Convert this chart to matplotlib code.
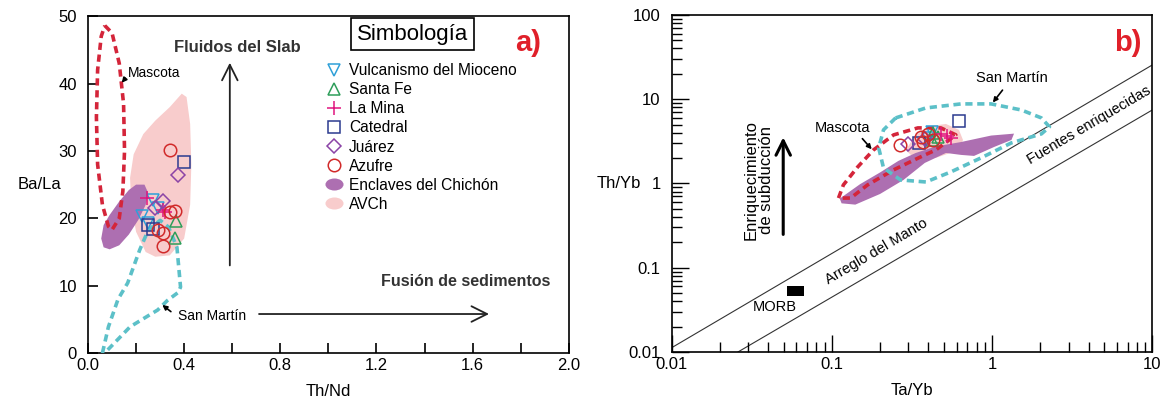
import numpy as np
import matplotlib
matplotlib.use("Agg")
import matplotlib.pyplot as plt
from matplotlib.lines import Line2D
from matplotlib.path import Path
from matplotlib.ticker import FixedLocator, LogLocator, NullFormatter, FuncFormatter

plt.rcParams['font.family'] = ['Liberation Sans', 'DejaVu Sans']

# ---------------- panel a) Th/Nd vs Ba/La ----------------
vulc_a_x = [0.27, 0.225, 0.25, 0.29]
vulc_a_y = [22.7, 20.3, 19.3, 21.5]
santafe_a_x = [0.365, 0.36]
santafe_a_y = [19.6, 17.1]
lamina_a_x = [0.245, 0.31, 0.32]
lamina_a_y = [23.0, 21.2, 21.0]
catedral_a_x = [0.40, 0.27, 0.25]
catedral_a_y = [28.3, 18.4, 19.0]
juarez_a_x = [0.375, 0.31, 0.28]
juarez_a_y = [26.5, 22.5, 21.5]
azufre_a_x = [0.34, 0.36, 0.34, 0.31, 0.29, 0.31]
azufre_a_y = [30.1, 21.1, 21.0, 17.8, 18.2, 15.9]

mascota_a_x = [0.07, 0.10, 0.13, 0.148, 0.152, 0.145, 0.13, 0.10, 0.085, 0.06, 0.04, 0.035, 0.04, 0.055, 0.07]
mascota_a_y = [48.6, 47.5, 43, 37, 30, 24, 20, 18.3, 18.8, 22, 28, 35, 42, 47, 48.6]
sanmartin_a_x = [0.06, 0.085, 0.125, 0.165, 0.215, 0.25, 0.30, 0.335, 0.37, 0.385, 0.375, 0.33, 0.29, 0.175, 0.08, 0.06]
sanmartin_a_y = [0.0, 3.9, 8.0, 10.4, 15.3, 18.2, 19.7, 18.7, 15.7, 9.8, 9.0, 7.8, 6.4, 3.9, 0.4, 0.0]
enclaves_a_x = [0.055, 0.065, 0.09, 0.13, 0.17, 0.20, 0.235, 0.25, 0.24, 0.21, 0.17, 0.13, 0.09, 0.065]
enclaves_a_y = [17.0, 19.0, 20.5, 22.5, 24.2, 25.0, 25.0, 23.8, 22.0, 19.8, 17.6, 16.0, 15.4, 15.7]
avch_a_x = [0.39, 0.34, 0.28, 0.23, 0.19, 0.175, 0.18, 0.20, 0.24, 0.28, 0.34, 0.40, 0.425, 0.43, 0.425, 0.41]
avch_a_y = [38.5, 36.5, 34.5, 32.5, 29.5, 26, 22, 18, 15, 14.3, 14.5, 17, 22, 28, 34, 38]

# ---------------- panel b) Ta/Yb vs Th/Yb ----------------
vulc_b_x = [0.42, 0.40]
vulc_b_y = [4.1, 3.5]
santafe_b_x = [0.43, 0.46, 0.42]
santafe_b_y = [4.0, 3.6, 3.3]
lamina_b_x = [0.52, 0.55, 0.48]
lamina_b_y = [3.7, 3.5, 3.9]
catedral_b_x = [0.35, 0.62]
catedral_b_y = [3.0, 5.5]
juarez_b_x = [0.30, 0.38]
juarez_b_y = [2.9, 3.4]
azufre_b_x = [0.268, 0.36, 0.37, 0.40, 0.43]
azufre_b_y = [2.85, 3.6, 3.1, 3.9, 3.3]

mascota_b_x = [0.110, 0.118, 0.145, 0.182, 0.243, 0.344, 0.479, 0.594, 0.446, 0.359, 0.243, 0.167, 0.131, 0.110]
mascota_b_y = [0.67, 0.96, 1.57, 2.50, 3.77, 4.56, 4.56, 3.77, 2.50, 2.07, 1.45, 0.96, 0.67, 0.67]
sanmartin_b_x = [0.25, 0.386, 0.64, 0.986, 1.52, 2.03, 2.28, 2.03, 1.32, 0.853, 0.553, 0.386, 0.268, 0.21, 0.196, 0.21, 0.25]
sanmartin_b_y = [5.99, 7.87, 8.79, 8.79, 7.45, 5.99, 4.69, 3.87, 3.03, 2.01, 1.37, 1.04, 1.10, 1.53, 2.64, 4.32, 5.99]
enclaves_b_x = [0.112, 0.15, 0.2, 0.26, 0.334, 0.446, 0.64, 0.986, 1.37, 1.32, 1.03, 0.771, 0.64, 0.515, 0.38, 0.28, 0.2, 0.14, 0.115]
enclaves_b_y = [0.66, 0.98, 1.35, 1.85, 2.3, 2.75, 3.1, 3.7, 3.9, 3.28, 2.71, 2.12, 2.18, 2.3, 1.75, 1.1, 0.75, 0.56, 0.58]
avch_b_x = [0.289, 0.334, 0.415, 0.515, 0.621, 0.658, 0.621, 0.446, 0.334]
avch_b_y = [2.50, 3.77, 4.81, 5.08, 4.32, 3.28, 2.50, 2.01, 1.90]

mantle_up_x = [0.01, 10]
mantle_up_y = [0.0112, 25.5]
mantle_lo_x = [0.026, 10]
mantle_lo_y = [0.01, 7.45]
morb_x = [0.0526, 0.0673]
morb_y = [0.046, 0.0607]

series_names = ["Vulcanismo del Mioceno", "Santa Fe", "La Mina", "Catedral", "Juárez", "Azufre"]
markers = ["v", "^", "+", "s", "D", "o"]
colors = ["#2fa0d8", "#2e9e5a", "#e0157f", "#2b3a8f", "#8b44a6", "#d12a2a"]
msizes = [9, 9, 10, 8, 7, 9]

c_red = "#d4253a"
c_cyan = "#5cc0c8"
c_purple = "#ad6fb1"
c_pink = "#f8cccc"

fig = plt.figure(figsize=(11.64, 4.04), dpi=100)
ax1 = fig.add_axes([0.0756, 0.126, 0.413, 0.834])
ax2 = fig.add_axes([0.577, 0.129, 0.413, 0.834])

dash = (0, (2.0, 1.3))

# ---- panel a ----
ax1.fill(avch_a_x, avch_a_y, color=c_pink, lw=0, zorder=1)
ax1.fill(enclaves_a_x, enclaves_a_y, color=c_purple, lw=0, zorder=2)
ax1.plot(mascota_a_x, mascota_a_y, color=c_red, lw=2.6, ls=dash, zorder=3)
ax1.plot(sanmartin_a_x, sanmartin_a_y, color=c_cyan, lw=2.6, ls=dash, zorder=3)

data_a = [(vulc_a_x, vulc_a_y), (santafe_a_x, santafe_a_y), (lamina_a_x, lamina_a_y),
          (catedral_a_x, catedral_a_y), (juarez_a_x, juarez_a_y), (azufre_a_x, azufre_a_y)]
for (xs, ys), m, c, s in zip(data_a, markers, colors, msizes):
    ax1.plot(xs, ys, ls="none", marker=m, ms=s, mfc="none", mec=c, mew=1.1, zorder=4)

ax1.set_xlim(0, 2.0)
ax1.set_ylim(0, 50)
ax1.xaxis.set_major_locator(FixedLocator([0, 0.4, 0.8, 1.2, 1.6, 2.0]))
ax1.xaxis.set_minor_locator(FixedLocator([0.2, 0.6, 1.0, 1.4, 1.8]))
ax1.xaxis.set_major_formatter(FuncFormatter(lambda v, p: "%.1f" % v))
ax1.set_yticks([0, 10, 20, 30, 40, 50])
ax1.tick_params(which="both", direction="in", labelsize=12, width=1.2)
ax1.tick_params(which="major", length=7)
ax1.tick_params(which="minor", length=7)
ax1.tick_params(axis="y", pad=8)
ax1.set_xlabel("Th/Nd", fontsize=12, labelpad=8)
ax1.text(-0.1, 0.5, "Ba/La", transform=ax1.transAxes, fontsize=12, ha="center", va="center")

ax1.annotate("", xy=(0.59, 43.5), xytext=(0.59, 12.6),
             arrowprops=dict(arrowstyle="->", lw=1.3, mutation_scale=28, color="#222222"))
ax1.text(0.62, 45.4, "Fluidos del Slab", fontsize=12, fontweight="bold", ha="center", va="center", color="#333333")
ax1.annotate("", xy=(1.68, 5.8), xytext=(0.70, 5.8),
             arrowprops=dict(arrowstyle="->", lw=1.3, mutation_scale=28, color="#222222"))
ax1.text(1.57, 10.6, "Fusión de sedimentos", fontsize=11.5, fontweight="bold", ha="center", va="center", color="#333333")

ax1.text(0.167, 41.5, "Mascota", fontsize=10, ha="left", va="center")
ax1.annotate("", xy=(0.133, 39.8), xytext=(0.163, 41.1),
             arrowprops=dict(arrowstyle="-|>", lw=1.2, mutation_scale=7, color="black"))
ax1.text(0.375, 5.5, "San Martín", fontsize=10, ha="left", va="center")
ax1.annotate("", xy=(0.30, 7.4), xytext=(0.354, 5.9),
             arrowprops=dict(arrowstyle="-|>", lw=1.2, mutation_scale=7, color="black"))

ax1.text(0.675, 0.947, "Simbología", transform=ax1.transAxes, fontsize=16, ha="center", va="center",
         bbox=dict(boxstyle="square,pad=0.25", fc="white", ec="black", lw=1.2))
ax1.text(0.915, 0.92, "a)", transform=ax1.transAxes, fontsize=21, fontweight="bold", color="#e0202a",
         ha="center", va="center")

ell = Path.unit_circle().transformed(matplotlib.transforms.Affine2D().scale(1.5, 1.0))
handles = [Line2D([], [], ls="none", marker=m, ms=s, mfc="none", mec=c, mew=1.1)
           for m, c, s in zip(markers, colors, msizes)]
handles.append(Line2D([], [], ls="none", marker=ell, ms=13, mfc=c_purple, mec="none"))
handles.append(Line2D([], [], ls="none", marker=ell, ms=13, mfc=c_pink, mec="none"))
ax1.legend(handles, series_names + ["Enclaves del Chichón", "AVCh"], loc="upper left",
           bbox_to_anchor=(0.495, 0.86), frameon=False, fontsize=11.2, labelspacing=0.26,
           handlelength=1.0, handletextpad=0.5, borderaxespad=0, borderpad=0)

# ---- panel b ----
ax2.set_xscale("log")
ax2.set_yscale("log")
ax2.plot(mantle_up_x, mantle_up_y, color="#333333", lw=0.8, zorder=1)
ax2.plot(mantle_lo_x, mantle_lo_y, color="#333333", lw=0.8, zorder=1)
ax2.fill_between(morb_x, morb_y[0], morb_y[1], color="black", lw=0, zorder=2)
ax2.fill(avch_b_x, avch_b_y, color=c_pink, lw=0, zorder=2)
ax2.fill(enclaves_b_x, enclaves_b_y, color=c_purple, lw=0, zorder=2)
ax2.plot(mascota_b_x, mascota_b_y, color=c_red, lw=2.6, ls=dash, zorder=3)
ax2.plot(sanmartin_b_x, sanmartin_b_y, color=c_cyan, lw=2.6, ls=dash, zorder=3)

data_b = [(vulc_b_x, vulc_b_y), (santafe_b_x, santafe_b_y), (lamina_b_x, lamina_b_y),
          (catedral_b_x, catedral_b_y), (juarez_b_x, juarez_b_y), (azufre_b_x, azufre_b_y)]
for (xs, ys), m, c, s in zip(data_b, markers, colors, msizes):
    ax2.plot(xs, ys, ls="none", marker=m, ms=s, mfc="none", mec=c, mew=1.1, zorder=4)

ax2.set_xlim(0.01, 10)
ax2.set_ylim(0.01, 100)
fmt = FuncFormatter(lambda v, p: "%g" % v)
for axis in (ax2.xaxis, ax2.yaxis):
    axis.set_major_locator(LogLocator(base=10, numticks=10))
    axis.set_minor_locator(LogLocator(base=10, subs=np.arange(2, 10), numticks=10))
    axis.set_major_formatter(fmt)
    axis.set_minor_formatter(NullFormatter())
ax2.tick_params(which="both", direction="in", labelsize=12, width=1.0)
ax2.tick_params(which="major", length=12)
ax2.tick_params(which="minor", length=7)
ax2.tick_params(axis="y", pad=8)
ax2.set_xlabel("Ta/Yb", fontsize=12, labelpad=8)
ax2.text(-0.11, 0.5, "Th/Yb", transform=ax2.transAxes, fontsize=12, ha="center", va="center")

ax2.text(0.044, 0.034, "MORB", fontsize=10.5, ha="center", va="center")
ax2.text(0.19, 0.155, "Arreglo del Manto", fontsize=10.5, rotation=30.5, ha="center", va="center",
         rotation_mode="anchor")
ax2.text(4.0, 4.9, "Fuentes enriquecidas", fontsize=10.5, rotation=30.5, ha="center", va="center",
         rotation_mode="anchor")
ax2.annotate("", xy=(0.0497, 3.8), xytext=(0.0497, 0.23),
             arrowprops=dict(arrowstyle="->", lw=2.2, mutation_scale=26, color="black"))
ax2.text(0.0351, 1.1, "Enriquecimiento\nde subducción", fontsize=12, rotation=90,
         ha="center", va="center", linespacing=1.0)

ax2.text(0.116, 4.56, "Mascota", fontsize=10.5, ha="center", va="center")
ax2.annotate("", xy=(0.182, 2.4), xytext=(0.151, 3.6),
             arrowprops=dict(arrowstyle="-|>", lw=1.2, mutation_scale=7, color="black"))
ax2.text(1.32, 17.9, "San Martín", fontsize=10.5, ha="center", va="center")
ax2.annotate("", xy=(0.986, 8.6), xytext=(1.19, 13.6),
             arrowprops=dict(arrowstyle="-|>", lw=1.2, mutation_scale=7, color="black"))
ax2.text(0.95, 0.917, "b)", transform=ax2.transAxes, fontsize=21, fontweight="bold", color="#e0202a",
         ha="center", va="center")

for ax in (ax1, ax2):
    for sp in ax.spines.values():
        sp.set_linewidth(1.2)

fig.savefig("out.png", dpi=100)
